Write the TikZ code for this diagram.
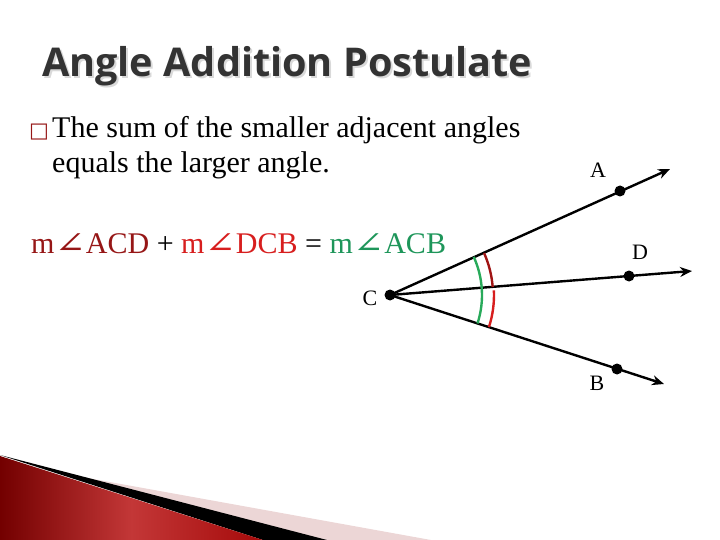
\documentclass[tikz,border=0pt]{standalone}
\usepackage{fontspec}
\setmainfont{Liberation Serif}
\newfontfamily\titlefont{Open Sans}
\newfontfamily\symfont{DejaVu Serif}
\newfontfamily\boxfont{DejaVu Sans}
\usetikzlibrary{arrows.meta}

\definecolor{darkred}{RGB}{150,22,22}
\definecolor{brightred}{RGB}{215,30,30}
\definecolor{eqgreen}{RGB}{30,150,90}
\definecolor{arcgreen}{RGB}{40,170,90}
\definecolor{titlegray}{RGB}{51,51,51}
\definecolor{bandpink}{RGB}{236,214,214}
\definecolor{bandleft}{RGB}{115,0,0}
\definecolor{bandmid}{RGB}{195,55,55}
\definecolor{bandright}{RGB}{165,10,10}

\newcommand{\ang}{{\symfont\scalebox{1.25}[1]{∠}}}

\begin{document}
\begin{tikzpicture}[x=1pt,y=-1pt,
  dot/.style={circle,fill=black,inner sep=0pt,minimum size=11pt},
  ray/.style={line width=2.4pt,-{Stealth[length=12pt,width=10pt]}},
  letter/.style={font=\fontsize{22}{24}\selectfont},
  body/.style={anchor=base west,inner sep=0pt,font=\fontsize{30}{32}\selectfont},
  arcline/.style={line width=2.4pt}]

  \useasboundingbox (0,0) rectangle (720,540);

  % corner decoration
  \fill[bandpink] (60,473) -- (431,540) -- (300,540) -- cycle;
  \fill[black] (0,455) -- (327,540) -- (263,540) -- cycle;
  \shade[left color=bandleft,right color=bandright,middle color=bandmid]
    (0,456) -- (263,540) -- (0,540) -- cycle;

  % title
  \node[anchor=base west,inner sep=0pt,text=black!15,
    font=\titlefont\bfseries\fontsize{39.6}{44}\selectfont] (shadow) at (44,79) {Angle Addition Postulate};
  \node[anchor=base west,inner sep=0pt,text=titlegray,
    font=\titlefont\bfseries\fontsize{39.6}{44}\selectfont] (title) at (42,77) {Angle Addition Postulate};

  % text
  \node[anchor=base west,inner sep=0pt,text=darkred,font=\boxfont\fontsize{21}{22}\selectfont] (bullet) at (29,138) {□};
  \node[body] (line1) at (52,138) {The sum of the smaller adjacent angles};
  \node[body] (line2) at (52,173) {equals the larger angle.};
  \node[body] (eq) at (31,253) {\textcolor{darkred}{m\ang ACD} + \textcolor{brightred}{m\ang DCB} = \textcolor{eqgreen}{m\ang ACB}};

  % angle
  \node[dot] (C) at (390,295) {};
  \node[dot] (A) at (620,191) {};
  \node[dot] (D) at (629,276) {};
  \node[dot] (B) at (617,369) {};
  \coordinate (Atip) at (670,169);
  \coordinate (Dtip) at (692,271);
  \coordinate (Btip) at (664,384);

  \draw[ray] (C.center) -- (Atip);
  \draw[ray] (C.center) -- (Dtip);
  \draw[ray] (C.center) -- (Btip);

  \draw[arcline,arcgreen] ([shift={(-24.5:92)}]C.center) arc[start angle=-24.5,end angle=18,radius=92];
  \draw[arcline,darkred!90!red] ([shift={(-24:103)}]C.center) arc[start angle=-24,end angle=-4.5,radius=103];
  \draw[arcline,brightred] ([shift={(-2.5:104)}]C.center) arc[start angle=-2.5,end angle=18,radius=104];

  \node[letter] (labA) at (598,170) {A};
  \node[letter] (labD) at (640,252) {D};
  \node[letter] (labB) at (597,383) {B};
  \node[letter] (labC) at (370,298) {C};
\end{tikzpicture}
\end{document}
